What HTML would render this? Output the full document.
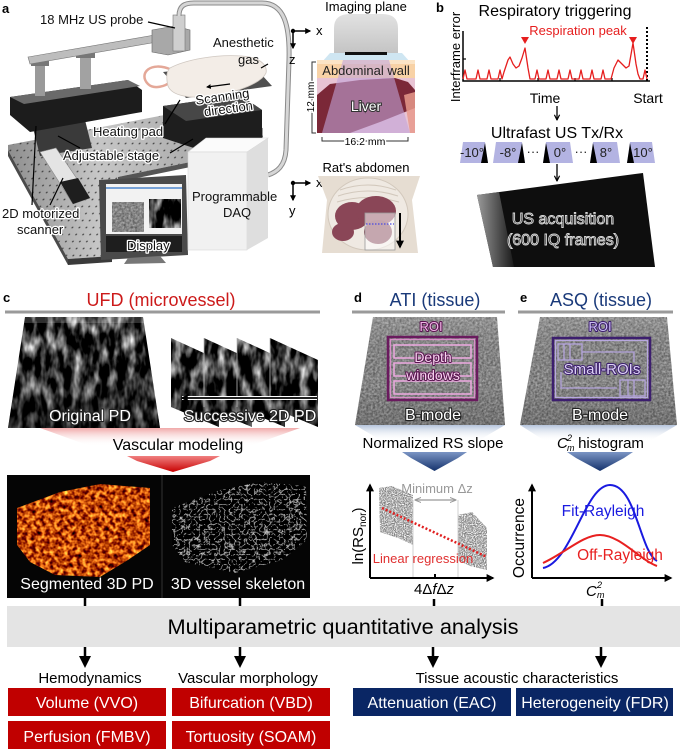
<!DOCTYPE html>
<html><head><meta charset="utf-8"><style>
html,body{margin:0;padding:0;background:#fff}
svg{display:block}
text{font-family:"Liberation Sans",Arial,sans-serif}
</style></head><body>
<svg width="685" height="749" viewBox="0 0 685 749" xmlns="http://www.w3.org/2000/svg">
<defs>
 <filter id="spk" x="0" y="0" width="1" height="1" color-interpolation-filters="sRGB">
  <feTurbulence type="fractalNoise" baseFrequency="0.45" numOctaves="2" seed="2"/>
  <feColorMatrix type="matrix" values="0.5 0 0 0 0.27  0.5 0 0 0 0.27  0.5 0 0 0 0.27  0 0 0 0 1"/>
 </filter>
 <filter id="pd" x="0" y="0" width="1" height="1" color-interpolation-filters="sRGB">
  <feTurbulence type="fractalNoise" baseFrequency="0.11 0.045" numOctaves="3" seed="5"/>
  <feColorMatrix type="matrix" values="2.1 0 0 0 -0.85  2.1 0 0 0 -0.85  2.1 0 0 0 -0.85  0 0 0 0 1"/>
 </filter>
 <filter id="ves" x="0" y="0" width="1" height="1" color-interpolation-filters="sRGB">
  <feTurbulence type="fractalNoise" baseFrequency="0.22" numOctaves="2" seed="7"/>
  <feColorMatrix type="matrix" values="2.0 0 0 0 -0.25  1.8 0 0 0 -0.62  0.8 0 0 0 -0.38  0 0 0 0 1"/>
 </filter>
 <filter id="skel" x="0" y="0" width="1" height="1" color-interpolation-filters="sRGB">
  <feTurbulence type="turbulence" baseFrequency="0.2" numOctaves="2" seed="11"/>
  <feColorMatrix type="matrix" values="-4 0 0 0 0.85  -4 0 0 0 0.85  -4 0 0 0 0.85  0 0 0 0 1"/>
 </filter>
 <filter id="gn" x="0" y="0" width="1" height="1" color-interpolation-filters="sRGB">
  <feTurbulence type="fractalNoise" baseFrequency="0.9" numOctaves="1" seed="4"/>
  <feColorMatrix type="matrix" values="0 0 0 0 0.5  0 0 0 0 0.5  0 0 0 0 0.5  3 0 0 0 -0.9"/>
 </filter>
 <pattern id="holes" width="7" height="7" patternUnits="userSpaceOnUse" patternTransform="skewX(-25)">
  <circle cx="3.5" cy="3.5" r="0.9" fill="#2a2a2a"/>
 </pattern>
 <linearGradient id="plateG" x1="0" y1="0" x2="1" y2="0">
  <stop offset="0" stop-color="#8e8e8e"/><stop offset="0.35" stop-color="#c6c6c6"/><stop offset="1" stop-color="#9c9c9c"/>
 </linearGradient>
 <linearGradient id="pdShade" x1="0" y1="0" x2="0" y2="1">
  <stop offset="0" stop-color="#000" stop-opacity="0"/><stop offset="0.55" stop-color="#000" stop-opacity="0.1"/><stop offset="1" stop-color="#000" stop-opacity="0.45"/>
 </linearGradient>
 <linearGradient id="bShade" x1="0" y1="0" x2="0" y2="1">
  <stop offset="0" stop-color="#fff" stop-opacity="0.12"/><stop offset="0.6" stop-color="#000" stop-opacity="0"/><stop offset="1" stop-color="#000" stop-opacity="0.15"/>
 </linearGradient>
 <linearGradient id="redFade" x1="0" y1="0" x2="0" y2="1">
  <stop offset="0" stop-color="#f0a8a8"/><stop offset="1" stop-color="#fff" stop-opacity="0"/>
 </linearGradient>
 <linearGradient id="blueFade" x1="0" y1="0" x2="0" y2="1">
  <stop offset="0" stop-color="#b4c4dc"/><stop offset="1" stop-color="#fff" stop-opacity="0"/>
 </linearGradient>
 <linearGradient id="redArr" x1="0" y1="0" x2="0" y2="1">
  <stop offset="0" stop-color="#f08080"/><stop offset="1" stop-color="#c80000"/>
 </linearGradient>
 <linearGradient id="blueArr" x1="0" y1="0" x2="0" y2="1">
  <stop offset="0" stop-color="#7b95c4"/><stop offset="1" stop-color="#15326c"/>
 </linearGradient>
 <linearGradient id="blockSide" x1="0" y1="0" x2="1" y2="0">
  <stop offset="0" stop-color="#9a9a9a"/><stop offset="1" stop-color="#1a1a1a"/>
 </linearGradient>
 <linearGradient id="probeG" x1="0" y1="0" x2="0" y2="1">
  <stop offset="0" stop-color="#e2e2e2"/><stop offset="1" stop-color="#c4c4c4"/>
 </linearGradient>
 <marker id="ah" viewBox="0 0 10 10" refX="8" refY="5" markerWidth="4" markerHeight="4" orient="auto-start-reverse"><path d="M0,0 L10,5 L0,10 z" fill="#000"/></marker>
 <marker id="ahg" viewBox="0 0 10 10" refX="8" refY="5" markerWidth="5" markerHeight="5" orient="auto-start-reverse"><path d="M0,1 L10,5 L0,9" fill="none" stroke="#999" stroke-width="1.5"/></marker>
 <marker id="oh" viewBox="0 0 10 10" refX="9" refY="5" markerWidth="5" markerHeight="5" orient="auto"><path d="M1,1 L9,5 L1,9" fill="none" stroke="#000" stroke-width="1.8"/></marker>
 <clipPath id="cOrig"><polygon points="25,317 143,317 160,428 8,428"/></clipPath>
 <clipPath id="cFrames">
  <polygon points="171,338 219,360 219,427 171,407"/>
  <polygon points="204,338 252,360 252,427 204,407"/>
  <polygon points="237,338 285,360 285,427 237,407"/>
  <polygon points="270,338 318,360 318,427 270,407"/>
 </clipPath>
 <clipPath id="cBd"><polygon points="373,317 497,317 505,425 355,425"/></clipPath>
 <clipPath id="cBe"><polygon points="540,317 667,317 677,425 520,425"/></clipPath>
 <clipPath id="cVes"><polygon points="17,508 60,492 100,484 150,488 150,545 128,560 100,577 55,575 30,562 17,545"/></clipPath>
 <clipPath id="cSk"><polygon points="172,508 220,490 260,482 306,486 307,540 282,560 235,573 185,562 172,545"/></clipPath>
 <clipPath id="cGd">
  <polygon points="379,488 392,486 413,495 413,545 398,538 380,532"/>
  <polygon points="458,515 472,512 487,528 487,570 470,566 458,560"/>
 </clipPath>
</defs>

<!-- ================= PANEL A ================= -->
<text x="2" y="13" font-size="13" font-weight="bold">a</text>
<polygon points="8,145 175,113 263,128 263,147 118,177 112,256 68,259 8,150" fill="url(#plateG)"/>
<polygon points="8,145 175,113 263,128 263,147 118,177 112,256 68,259 8,150" fill="url(#holes)" opacity="0.8"/>
<polygon points="8,150 68,259 68,265 8,156" fill="#4a4a4a"/>
<polygon points="68,259 112,256 112,262 68,265" fill="#3a3a3a"/>
<polygon points="118,177 263,147 263,152 118,182" fill="#555"/>
<polygon points="33,128 85,120 92,148 40,156" fill="#3a3a3a"/>
<polygon points="40,152 56,148 90,198 73,204" fill="#e4e4e4" stroke="#888" stroke-width="0.6"/>
<polygon points="60,182 78,178 90,198 73,204" fill="#1e1e1e"/>
<polygon points="10,97 128,80 142,90 142,112 30,132 10,115" fill="#1c1c1c"/>
<polygon points="10,97 128,80 140,86 24,104" fill="#6a6a6a"/>
<rect x="35" y="56" width="10" height="40" fill="#9a9a9a"/>
<rect x="80" y="49" width="11" height="40" fill="#a2a2a2"/>
<rect x="31" y="58" width="18" height="8" fill="#777"/>
<rect x="76" y="50" width="19" height="8" fill="#777"/>
<polygon points="28,57 155,35 157,42 30,64" fill="#bdbdbd" stroke="#777" stroke-width="0.6"/>
<polygon points="152,30 175,26 190,30 190,50 168,55 152,52" fill="#a8a8a8" stroke="#666" stroke-width="0.6"/>
<rect x="173" y="15" width="12" height="36" fill="#cfcfcf" stroke="#777" stroke-width="0.6"/>
<path d="M179,16 C179,6 184,3 194,3 L262,3 C284,3 290,25 289,60 L286,150 C285,166 277,172 268,175" fill="none" stroke="#8a8a8a" stroke-width="5"/>
<path d="M179,16 C179,6 184,3 194,3 L262,3 C284,3 290,25 289,60 L286,150 C285,166 277,172 268,175" fill="none" stroke="#d6d6d6" stroke-width="3"/>
<polygon points="163,72 250,62 272,86 186,98" fill="#505050"/>
<path d="M172,70 C150,60 138,74 148,84 C154,90 166,86 170,82" fill="none" stroke="#e4a898" stroke-width="2.5"/>
<path d="M170,68 C185,60 215,54 242,56 C258,57 268,64 266,73 C262,82 240,92 212,96 C190,99 172,96 168,86 C166,78 166,72 170,68 Z" fill="#f3ede7" stroke="#cfc7c0" stroke-width="0.8"/>
<polygon points="163,106 240,95 262,110 262,140 200,150 163,138" fill="#1e1e1e"/>
<polygon points="163,106 240,95 262,110 186,121" fill="#474747"/>
<polygon points="99,180 186,175 188,255 101,260" fill="#4a4a4a"/>
<rect x="106" y="184" width="76" height="50" fill="#f2f2f2"/>
<line x1="106" y1="188" x2="182" y2="188" stroke="#4c86cc" stroke-width="1.5"/>
<rect x="112" y="202" width="32" height="30" fill="#888" filter="url(#spk)"/>
<rect x="149" y="199" width="32" height="29" fill="#666" filter="url(#pd)"/>
<rect x="106" y="236" width="76" height="16" fill="#1e1e1e"/>
<polygon points="128,258 160,256 166,263 124,264" fill="#777"/>
<polygon points="188,152 206,138 268,138 247,152" fill="#fbfbfb" stroke="#d8d8d8" stroke-width="0.6"/>
<rect x="188" y="152" width="59" height="98" fill="#f1f1f1" stroke="#d8d8d8" stroke-width="0.6"/>
<polygon points="247,152 268,138 268,238 247,250" fill="#dedede"/>
<g stroke="#000" stroke-width="1.2">
 <line x1="148" y1="22" x2="175" y2="28"/>
 <line x1="165" y1="124" x2="180" y2="100"/>
 <line x1="80" y1="148" x2="58" y2="136"/>
 <line x1="170" y1="153" x2="193" y2="139"/>
 <line x1="32" y1="205" x2="36" y2="126"/>
 <line x1="50" y1="205" x2="63" y2="178"/>
 <line x1="230" y1="84" x2="207" y2="87" marker-end="url(#ah)"/>
 <line x1="268" y1="64" x2="261" y2="68"/>
</g>
<g font-size="13" fill="#111">
 <text x="40" y="24">18 MHz US probe</text>
 <text x="213" y="47">Anesthetic</text>
 <text x="238" y="64">gas</text>
</g>
<g font-size="13" fill="#111" stroke="#fff" stroke-width="2.6" paint-order="stroke" stroke-linejoin="round">
 <text x="223" y="101" text-anchor="middle" transform="rotate(-8 223 101)">Scanning</text>
 <text x="229" y="113" text-anchor="middle" transform="rotate(-8 229 113)">direction</text>
 <text x="93" y="136">Heating pad</text>
 <text x="63" y="160">Adjustable stage</text>
 <text x="2" y="218">2D motorized</text>
 <text x="17" y="234">scanner</text>
 <text x="127" y="250">Display</text>
</g>
<g font-size="13" fill="#111">
 <text x="192" y="201">Programmable</text>
 <text x="223" y="217">DAQ</text>
</g>

<!-- imaging plane -->
<text x="366" y="11" font-size="13" text-anchor="middle">Imaging plane</text>
<path d="M334,53 L334,28 Q334,14 350,14 L382,14 Q398,14 398,28 L398,53 Z" fill="url(#probeG)"/>
<polygon points="330,53 402,53 410,62 322,62" fill="#cfe6f2"/>
<rect x="345" y="52" width="42" height="3" fill="#111"/>
<rect x="317" y="60" width="98" height="18" fill="#f8d2a6"/>
<rect x="317" y="60" width="98" height="4" fill="#fbe4c6"/>
<rect x="317" y="78" width="98" height="55" fill="#e8c4d4"/>
<polygon points="317,95 330,84 360,80 395,78 408,82 415,90 415,108 380,122 350,133 317,133" fill="#7b2838"/>
<polygon points="343,60 389,60 410,133 322,133" fill="#c2a4d8" opacity="0.6"/>
<polygon points="404,95 415,92 415,133 410,133" fill="#e89a8c" opacity="0.85"/>
<text x="366" y="75" font-size="13" text-anchor="middle" fill="#222">Abdominal wall</text>
<text x="366" y="111" font-size="14" text-anchor="middle" fill="#fff" stroke="#333" stroke-width="2" paint-order="stroke">Liver</text>
<path d="M316,62 L312,62 L312,133 L316,133" fill="none" stroke="#333" stroke-width="1"/>
<text x="314" y="97" font-size="10" text-anchor="middle" transform="rotate(-90 314 97)" stroke="#fff" stroke-width="3" paint-order="stroke">12 mm</text>
<path d="M322,137 L322,141 L408,141 L408,137" fill="none" stroke="#333" stroke-width="1"/>
<text x="365" y="145" font-size="10.5" text-anchor="middle" stroke="#fff" stroke-width="3" paint-order="stroke">16.2 mm</text>
<g stroke="#000" stroke-width="1.5">
 <line x1="293" y1="31" x2="310" y2="31" marker-end="url(#ah)"/>
 <line x1="293" y1="31" x2="293" y2="48" marker-end="url(#ah)"/>
 <line x1="293" y1="183" x2="310" y2="183" marker-end="url(#ah)"/>
 <line x1="293" y1="183" x2="293" y2="200" marker-end="url(#ah)"/>
</g>
<circle cx="293" cy="31" r="2.2"/><circle cx="293" cy="183" r="2.2"/>
<g font-size="13"><text x="316" y="35">x</text><text x="289" y="64">z</text><text x="316" y="187">x</text><text x="289" y="215">y</text></g>
<text x="366" y="172" font-size="13" text-anchor="middle">Rat's abdomen</text>
<path d="M318,176 L420,176 L412,200 L418,253 L322,253 L327,200 Z" fill="#e6ddd2"/>
<ellipse cx="368" cy="214" rx="40" ry="36" fill="#efe9e2" stroke="#d2c8bc" stroke-width="1"/>
<path d="M340,190 Q368,180 396,190 M338,196 Q368,186 398,196 M337,202 Q368,193 399,202" fill="none" stroke="#d2c8bc" stroke-width="1"/>
<ellipse cx="352" cy="216" rx="17" ry="14" fill="#8a4657"/>
<ellipse cx="376" cy="211" rx="20" ry="15" fill="#8a4657"/>
<ellipse cx="343" cy="232" rx="11" ry="9" fill="#8a4657"/>
<ellipse cx="378" cy="232" rx="14" ry="12" fill="#7e3d4e"/>
<rect x="365" y="213" width="30" height="37" fill="#fff" fill-opacity="0.55" stroke="#999" stroke-width="0.8"/>
<line x1="366" y1="224" x2="394" y2="224" stroke="#4a4ae0" stroke-width="1.2" stroke-dasharray="1.5,1.5"/>
<line x1="400" y1="213" x2="400" y2="247" stroke="#000" stroke-width="2" marker-end="url(#ah)"/>

<!-- ================= PANEL B ================= -->
<text x="436" y="12" font-size="13" font-weight="bold">b</text>
<text x="555" y="16" font-size="16" text-anchor="middle">Respiratory triggering</text>
<text x="460" y="57" font-size="13" text-anchor="middle" transform="rotate(-90 460 57)">Interframe error</text>
<path d="M463,31 L463,81 L650,81" fill="none" stroke="#000" stroke-width="1.5"/>
<g stroke="#000" stroke-width="1.2"><line x1="463" y1="59" x2="466" y2="59"/><line x1="500" y1="81" x2="500" y2="78"/><line x1="538" y1="81" x2="538" y2="78"/><line x1="575" y1="81" x2="575" y2="78"/><line x1="612" y1="81" x2="612" y2="78"/></g>
<line x1="647" y1="27" x2="647" y2="81" stroke="#000" stroke-width="2" stroke-dasharray="2,2"/>
<polyline fill="none" stroke="#e61e1e" stroke-width="1.3" stroke-linejoin="round" points="463,79 465,70 467,79 476,79 478,70 480,79 487,79 489,70 491,79 498,79 500,70 502,79 504,72 508,60 510,57 513,64 516,68 519,66 522,58 525,48 528,68 530,79 535,79 537,70 539,79 546,79 548,70 550,79 557,79 559,70 561,79 568,79 570,70 572,79 579,79 581,70 583,79 590,79 592,70 594,79 601,79 603,70 605,79 611,79 614,68 618,60 622,64 626,68 629,66 633,43 636,64 638,74 640,79 643,79 645,70 647,79"/>
<polygon points="521,37 529,37 525,44" fill="#e61e1e"/>
<polygon points="629,37 637,37 633,44" fill="#e61e1e"/>
<text x="578" y="35" font-size="13" text-anchor="middle" fill="#e61e1e">Respiration peak</text>
<text x="545" y="103" font-size="14" text-anchor="middle">Time</text>
<text x="648" y="103" font-size="14" text-anchor="middle">Start</text>
<line x1="557" y1="106" x2="557" y2="120" stroke="#000" stroke-width="1.3" marker-end="url(#oh)"/>
<text x="557" y="138" font-size="16" text-anchor="middle">Ultrafast US Tx/Rx</text>
<g fill="#b3b3e2">
 <polygon points="463,142 485,142 488,163 460,163"/>
 <polygon points="496,142 522,142 525,163 493,163"/>
 <polygon points="546,142 570,142 573,163 543,163"/>
 <polygon points="593,142 617,142 620,163 590,163"/>
 <polygon points="630,142 652,142 655,163 627,163"/>
</g>
<g fill="#000">
 <polygon points="481,163 485,143 488,163"/>
 <polygon points="518,163 522,143 525,163"/>
 <polygon points="543,163 546,143 550,163"/>
 <polygon points="590,163 593,143 597,163"/>
 <polygon points="627,163 630,143 634,163"/>
</g>
<g font-size="13" text-anchor="middle" fill="#222">
 <text x="472" y="157">-10°</text><text x="508" y="157">-8°</text><text x="560" y="157">0°</text><text x="606" y="157">8°</text><text x="643" y="157">10°</text>
 <text x="533" y="156">···</text><text x="581" y="156">···</text>
</g>
<line x1="557" y1="164" x2="557" y2="181" stroke="#000" stroke-width="1.3" marker-end="url(#oh)"/>
<polygon points="477,195 643,173 655,267 493,267" fill="#0e0e0e"/>
<polygon points="477,195 499,192 514,267 493,267" fill="url(#blockSide)"/>
<g font-size="16" text-anchor="middle" fill="#1a1a1a" stroke="#d8d8d8" stroke-width="0.9">
 <text x="563" y="224">US acquisition</text>
 <text x="563" y="245">(600 IQ frames)</text>
</g>

<!-- ================= PANEL C ================= -->
<text x="3" y="302" font-size="13" font-weight="bold">c</text>
<text x="161" y="306" font-size="18" text-anchor="middle" fill="#cc1a1a">UFD (microvessel)</text>
<line x1="5" y1="312" x2="320" y2="312" stroke="#9a9a9a" stroke-width="3"/>
<g clip-path="url(#cOrig)">
 <rect x="8" y="317" width="152" height="111" fill="#444" filter="url(#pd)"/>
 <rect x="8" y="317" width="152" height="111" fill="url(#pdShade)"/>
 <rect x="8" y="317" width="152" height="6" fill="#fff" opacity="0.18"/>
</g>
<g clip-path="url(#cFrames)">
 <rect x="171" y="338" width="148" height="90" fill="#444" filter="url(#pd)"/>
 <rect x="171" y="338" width="148" height="90" fill="url(#pdShade)"/>
</g>
<g stroke="#bbb" stroke-width="0.8" fill="none">
 <polyline points="204,338 204,407"/><polyline points="237,338 237,407"/><polyline points="270,338 270,407"/>
</g>
<polygon points="40,428 300,428 250,446 90,446" fill="url(#redFade)"/>
<line x1="317" y1="398" x2="182" y2="398" stroke="#fff" stroke-width="4"/>
<line x1="317" y1="398" x2="182" y2="398" stroke="#000" stroke-width="1.8" marker-end="url(#ah)"/>
<g font-size="16" text-anchor="middle" fill="#fff" stroke="#222" stroke-width="2.2" paint-order="stroke" stroke-linejoin="round">
 <text x="90" y="421">Original PD</text>
 <text x="250" y="421">Successive 2D PD</text>
</g>
<text x="178" y="450" font-size="16" text-anchor="middle">Vascular modeling</text>
<polygon points="127,456 220,456 210,461 173,472 137,461" fill="url(#redArr)"/>
<rect x="7" y="475" width="303" height="123" fill="#050505"/>
<line x1="162" y1="475" x2="162" y2="598" stroke="#333" stroke-width="1"/>
<g clip-path="url(#cVes)"><rect x="15" y="480" width="140" height="100" fill="#c60" filter="url(#ves)"/></g>
<g clip-path="url(#cSk)"><rect x="170" y="480" width="140" height="100" fill="#888" filter="url(#skel)"/></g>
<g font-size="16" text-anchor="middle" fill="#fff">
 <text x="87" y="589">Segmented 3D PD</text>
 <text x="238" y="589">3D vessel skeleton</text>
</g>

<!-- ================= PANEL D ================= -->
<text x="354" y="302" font-size="13" font-weight="bold">d</text>
<text x="435" y="306" font-size="18" text-anchor="middle" fill="#1a3a7a">ATI (tissue)</text>
<line x1="352" y1="312" x2="505" y2="312" stroke="#9a9a9a" stroke-width="3"/>
<g clip-path="url(#cBd)">
 <rect x="355" y="317" width="150" height="108" fill="#888" filter="url(#spk)"/>
 <rect x="355" y="317" width="150" height="108" fill="url(#bShade)"/>
</g>
<rect x="388" y="337" width="89" height="63" fill="none" stroke="#6a1a5e" stroke-width="2.5"/>
<rect x="390.5" y="339.5" width="84" height="58" fill="none" stroke="#d890c8" stroke-width="1.3"/>
<g fill="none" stroke="#e8a8dc" stroke-width="1.6">
 <rect x="394" y="345" width="77" height="13"/><rect x="394" y="363" width="77" height="13"/><rect x="394" y="381" width="77" height="13"/>
</g>
<g text-anchor="middle" stroke="#5a1450" stroke-width="2" paint-order="stroke" stroke-linejoin="round">
 <text x="431" y="331" font-size="13" fill="#f0b4e6">ROI</text>
 <text x="433" y="362" font-size="14" fill="#f8d4f0">Depth</text>
 <text x="433" y="380" font-size="14" fill="#f8d4f0">windows</text>
</g>
<text x="433" y="420" font-size="16" text-anchor="middle" fill="#fff" stroke="#222" stroke-width="2.2" paint-order="stroke">B-mode</text>
<polygon points="355,425 505,425 478,441 382,441" fill="url(#blueFade)"/>
<text x="433" y="448" font-size="15" text-anchor="middle">Normalized RS slope</text>
<polygon points="402,452 467,452 458,458 434.5,471 411,458" fill="url(#blueArr)"/>
<g clip-path="url(#cGd)"><rect x="375" y="482" width="115" height="92" fill="#888" filter="url(#gn)"/></g>
<g stroke="#d0d0d0" stroke-width="1"><line x1="413" y1="500" x2="413" y2="578"/><line x1="458" y1="500" x2="458" y2="578"/></g>
<line x1="416" y1="500" x2="455" y2="500" stroke="#999" stroke-width="1.3" marker-start="url(#ahg)" marker-end="url(#ahg)"/>
<text x="437" y="493" font-size="13" text-anchor="middle" fill="#999">Minimum Δz</text>
<line x1="382" y1="508" x2="487" y2="557" stroke="#e02020" stroke-width="2.5" stroke-dasharray="2,2"/>
<text x="423" y="563" font-size="13" text-anchor="middle" fill="#e03030">Linear regression</text>
<line x1="370" y1="578" x2="370" y2="485" stroke="#000" stroke-width="2" marker-end="url(#ah)"/>
<line x1="370" y1="578" x2="493" y2="578" stroke="#000" stroke-width="2" marker-end="url(#ah)"/>
<line x1="435" y1="578" x2="435" y2="574" stroke="#000" stroke-width="2"/>
<text x="363" y="536" font-size="15" text-anchor="middle" transform="rotate(-90 363 536)">ln(RS<tspan font-size="10" dy="3">nor</tspan><tspan dy="-3">)</tspan></text>
<text x="434" y="594" font-size="15" text-anchor="middle">4Δ<tspan font-style="italic">f</tspan>Δ<tspan font-style="italic">z</tspan></text>

<!-- ================= PANEL E ================= -->
<text x="520" y="302" font-size="13" font-weight="bold">e</text>
<text x="601" y="306" font-size="18" text-anchor="middle" fill="#1a3a7a">ASQ (tissue)</text>
<line x1="518" y1="312" x2="673" y2="312" stroke="#9a9a9a" stroke-width="3"/>
<g clip-path="url(#cBe)">
 <rect x="520" y="317" width="157" height="108" fill="#888" filter="url(#spk)"/>
 <rect x="520" y="317" width="157" height="108" fill="url(#bShade)"/>
</g>
<rect x="553" y="338" width="97" height="62" fill="none" stroke="#3c1e6e" stroke-width="2.5"/>
<rect x="555.5" y="340.5" width="92" height="57" fill="none" stroke="#b8a8e0" stroke-width="1.2"/>
<g fill="none" stroke="#b4a4dc" stroke-width="1.3">
 <rect x="558" y="344" width="24" height="16"/><line x1="564" y1="344" x2="564" y2="360"/><line x1="570" y1="344" x2="570" y2="360"/>
 <polyline points="582,352 634,352 634,362"/>
 <polyline points="561,372 561,388 617,388"/>
 <rect x="620" y="380" width="25" height="16"/><line x1="628" y1="380" x2="628" y2="396"/><line x1="634" y1="380" x2="634" y2="396"/>
</g>
<g text-anchor="middle" stroke="#3c1e6e" stroke-width="2" paint-order="stroke" stroke-linejoin="round">
 <text x="600" y="331" font-size="13" fill="#cabcf2">ROI</text>
 <text x="602" y="374" font-size="15" fill="#ddd2f6">Small-ROIs</text>
</g>
<text x="600" y="420" font-size="16" text-anchor="middle" fill="#fff" stroke="#222" stroke-width="2.2" paint-order="stroke">B-mode</text>
<polygon points="520,425 677,425 650,441 545,441" fill="url(#blueFade)"/>
<text x="611" y="448" font-size="15" text-anchor="middle">histogram</text>
<text x="557" y="448" font-size="15" font-style="italic">C</text>
<text x="567" y="441" font-size="9" font-style="italic">2</text>
<text x="567" y="451" font-size="9" font-style="italic">m</text>
<polygon points="567,452 633,452 624,458 600,471 576,458" fill="url(#blueArr)"/>
<path d="M543,568 C572,562 585,485 610,485 C636,485 640,552 657,561" fill="none" stroke="#1a1ae0" stroke-width="2"/>
<path d="M543,563 C565,553 583,535 600,535 C620,535 640,560 657,566" fill="none" stroke="#e82020" stroke-width="2"/>
<text x="603" y="516" font-size="15.5" text-anchor="middle" fill="#1a1ae0">Fit-Rayleigh</text>
<text x="620" y="560" font-size="15.5" text-anchor="middle" fill="#e82020">Off-Rayleigh</text>
<line x1="532" y1="578" x2="532" y2="485" stroke="#000" stroke-width="2" marker-end="url(#ah)"/>
<line x1="532" y1="578" x2="671" y2="578" stroke="#000" stroke-width="2" marker-end="url(#ah)"/>
<text x="524" y="538" font-size="15.5" text-anchor="middle" transform="rotate(-90 524 538)">Occurrence</text>
<text x="586" y="596" font-size="15" font-style="italic">C</text>
<text x="597" y="588" font-size="9" font-style="italic">2</text>
<text x="597" y="598" font-size="9" font-style="italic">m</text>

<!-- ================= BOTTOM ================= -->
<g stroke="#000" stroke-width="2.5">
 <line x1="85" y1="598" x2="85" y2="606"/><line x1="240" y1="598" x2="240" y2="606"/>
 <line x1="434" y1="599" x2="434" y2="606"/><line x1="602" y1="599" x2="602" y2="606"/>
</g>
<rect x="7" y="606" width="673" height="41" fill="#e4e4e4"/>
<text x="343" y="634" font-size="21" text-anchor="middle" textLength="351" lengthAdjust="spacingAndGlyphs">Multiparametric quantitative analysis</text>
<g stroke="#000" stroke-width="2.5">
 <line x1="85" y1="647" x2="85" y2="658"/><line x1="240" y1="647" x2="240" y2="658"/>
 <line x1="433" y1="647" x2="433" y2="658"/><line x1="601" y1="647" x2="601" y2="658"/>
</g>
<g fill="#000">
 <polygon points="79,656 91,656 85,668"/><polygon points="234,656 246,656 240,668"/>
 <polygon points="427,656 439,656 433,668"/><polygon points="595,656 607,656 601,668"/>
</g>
<g font-size="15" text-anchor="middle">
 <text x="90" y="683">Hemodynamics</text>
 <text x="248" y="683">Vascular morphology</text>
 <text x="517" y="683">Tissue acoustic characteristics</text>
</g>
<g fill="#c00000">
 <rect x="8" y="688" width="158" height="28"/><rect x="172" y="688" width="158" height="28"/>
 <rect x="8" y="721" width="158" height="30"/><rect x="172" y="721" width="158" height="30"/>
</g>
<g fill="#0a2664">
 <rect x="353" y="688" width="158" height="28"/><rect x="516" y="688" width="157" height="28"/>
</g>
<g font-size="16" text-anchor="middle" fill="#fff">
 <text x="87" y="708">Volume (VVO)</text>
 <text x="251" y="708">Bifurcation (VBD)</text>
 <text x="87" y="742">Perfusion (FMBV)</text>
 <text x="251" y="742">Tortuosity (SOAM)</text>
 <text x="432" y="708">Attenuation (EAC)</text>
 <text x="595" y="708">Heterogeneity (FDR)</text>
</g>
</svg>
</body></html>
